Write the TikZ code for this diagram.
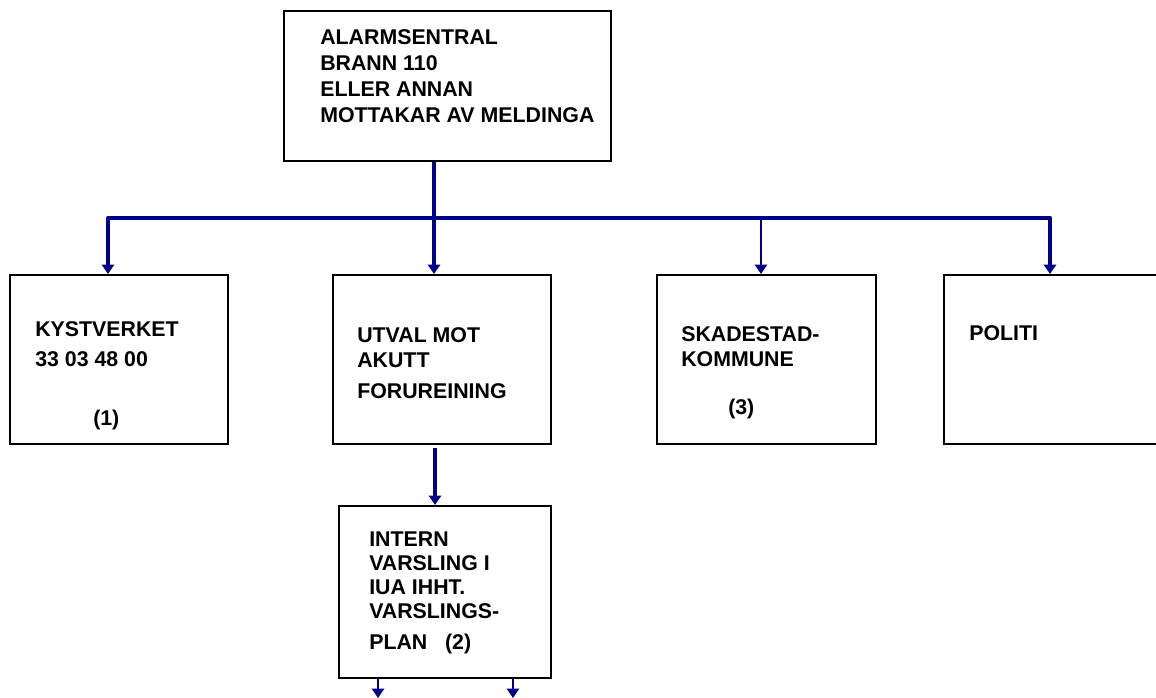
\documentclass[tikz,border=0pt]{standalone}
\usepackage{fontspec}
\setmainfont{Liberation Sans}
\usepackage{tikz}
\usetikzlibrary{arrows.meta,positioning,calc}
\definecolor{linkblue}{RGB}{0,0,139}

\begin{document}
\begin{tikzpicture}[x=0.75pt, y=-0.75pt,
    box/.style={draw, line width=1.3pt, inner sep=0pt, anchor=north west},
    txt/.style={anchor=base west, align=left, inner sep=0pt,
                font=\bfseries\fontsize{16}{18}\selectfont},
    link/.style={draw=linkblue, line width=#1},
    tip/.style={-{Triangle[width=9pt,length=7pt]}}]
    \useasboundingbox (0,0) rectangle (1156,698);

    % The boxes
    \node[box, minimum width=327*0.75pt, minimum height=150*0.75pt] (alarm) at (283,10) {};
    \node[box, minimum width=218*0.75pt, minimum height=169*0.75pt] (kyst) at (9,274) {};
    \node[box, minimum width=218*0.75pt, minimum height=169*0.75pt] (utval) at (332,274) {};
    \node[box, minimum width=219*0.75pt, minimum height=169*0.75pt] (skade) at (656,274) {};
    \node[box, minimum width=230*0.75pt, minimum height=169*0.75pt] (politi) at (943,274) {};
    \node[box, minimum width=212*0.75pt, minimum height=172*0.75pt] (intern) at (338,505) {};

    % Texts (placed at the baseline of their last line)
    \node[txt] (alarm-txt) at (320,123) {ALARMSENTRAL\\[1.5pt] BRANN 110\\[1.5pt] ELLER ANNAN\\[1.5pt] MOTTAKAR AV MELDINGA};
    \node[txt] (kyst-txt) at (35,367) {KYSTVERKET\\[4.5pt] 33 03 48 00};
    \node[txt] (kyst-no) at (93,426) {(1)};
    \node[txt] (utval-txt) at (357,398) {UTVAL MOT\\[0.75pt] AKUTT\\[5.25pt] FORUREINING};
    \node[txt] (skade-txt) at (681,367) {SKADESTAD-\\[0.75pt] KOMMUNE};
    \node[txt] (skade-no) at (728,414) {(3)};
    \node[txt] (politi-txt) at (969,341) {POLITI};
    \node[txt] (intern-txt) at (369,649) {INTERN\\ VARSLING I\\ IUA IHHT.\\ VARSLINGS-\\[5pt] PLAN\ \ \ (2)};

    % Connectors
    \coordinate (tap) at (434,218);
    \coordinate (busL) at (108,218);
    \coordinate (busR) at (1050,218);
    \coordinate (skTap) at (761,218);
    \coordinate (uvOut) at (435,448);
    \coordinate (outA) at (378,698);
    \coordinate (outB) at (513,698);

    \draw[link=3.5pt, line join=round,
          {Triangle[width=9pt,length=7pt]}-{Triangle[width=9pt,length=7pt]}]
         (busL |- kyst.north) -- (busL) -- (busR) -- (busR |- politi.north);
    \draw[link=3pt, tip] (tap |- alarm.south) -- (tap |- utval.north);
    \draw[link=1.8pt, tip] (skTap) -- (skTap |- skade.north);
    \draw[link=2.5pt, tip] (uvOut) -- (uvOut |- intern.north);
    \draw[link=2pt, tip] (outA |- intern.south) -- (outA);
    \draw[link=2pt, tip] (outB |- intern.south) -- (outB);
\end{tikzpicture}
\end{document}
